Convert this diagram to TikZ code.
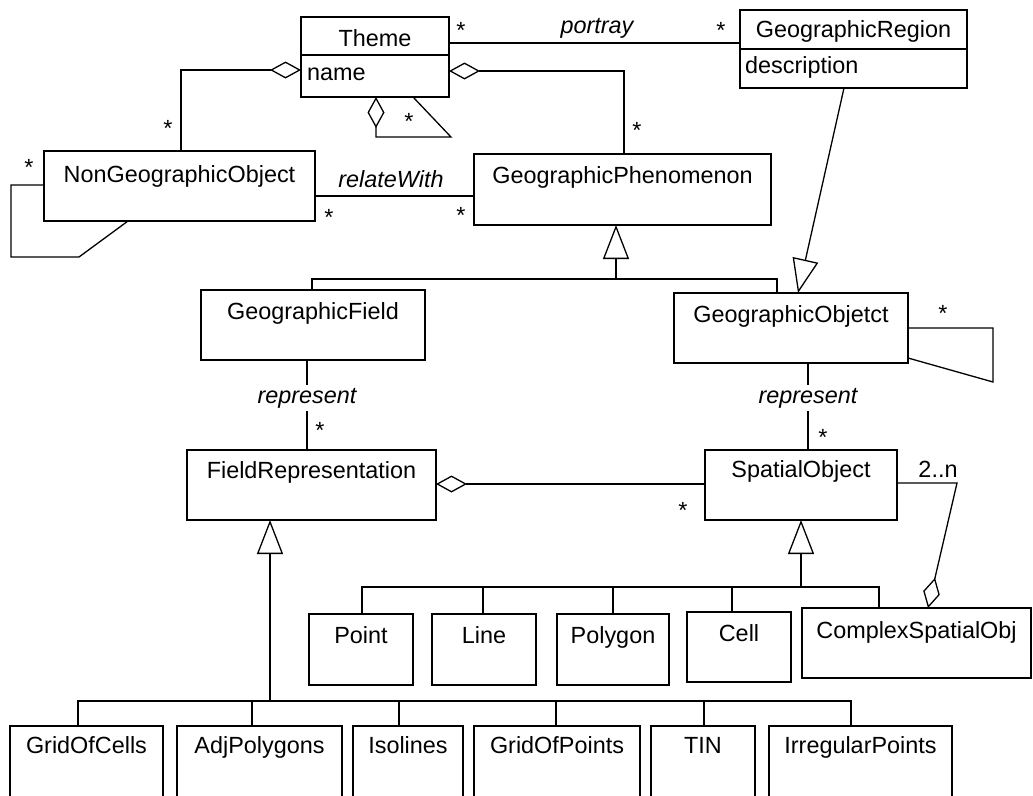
\documentclass[tikz,border=0pt]{standalone}
\usepackage{fontspec}
\setmainfont{Liberation Sans}
\usetikzlibrary{arrows.meta,calc}
\tikzset{
  cls/.style={draw, line width=1.3pt, inner sep=0pt, outer sep=0pt, font=\fontsize{23.4pt}{28pt}\selectfont},
  conn/.style={draw, line width=1.3pt},
  agg/.style={arrows={Diamond[open,length=31pt,width=17pt]-}},
  aggend/.style={arrows={-Diamond[open,length=31pt,width=17pt]}},
  gen/.style={arrows={-Triangle[open,length=34pt,width=26pt]}},
  txt/.style={inner sep=0pt, font=\fontsize{23.4pt}{28pt}\selectfont},
  lbl/.style={inner sep=0pt, font=\fontsize{23.4pt}{28pt}\selectfont\itshape},
  onlbl/.style={fill=white, inner xsep=1pt, inner ysep=3pt, font=\fontsize{23.4pt}{28pt}\selectfont\itshape},
  mult/.style={inner sep=0pt, anchor=base, font=\fontsize{23.4pt}{28pt}\selectfont}
}
\newcommand{\umlcls}[7][29]{%
  \pgfmathsetmacro{\clsw}{#5-#3}%
  \pgfmathsetmacro{\clsd}{#6-#4-#1}%
  \node[cls, minimum width=\clsw pt, text height=#1pt, text depth=\clsd pt, anchor=north west] (#2) at (#3,#4) {#7};}
\begin{document}
\begin{tikzpicture}[x=1pt,y=-1pt]
\useasboundingbox (0,0) rectangle (1033,795);
\clip (0,0) rectangle (1033,795);

% classes
\umlcls{theme}{301}{17}{449}{97}{Theme}
\draw[conn] ($(theme.north west)+(0,38)$) -- ($(theme.north east)+(0,38)$);
\node[txt, anchor=base west] (themename) at (307,80) {name};
\umlcls[27]{gr}{740}{10}{967}{88}{GeographicRegion}
\draw[conn] ($(gr.north west)+(0,39)$) -- ($(gr.north east)+(0,39)$);
\node[txt, anchor=base west] (grdesc) at (745,73) {description};
\umlcls[31]{ngo}{44}{151}{315}{221}{NonGeographicObject}
\umlcls{gp}{474}{154}{771}{225}{GeographicPhenomenon}
\umlcls{gf}{201}{290}{425}{360}{GeographicField}
\umlcls{go}{674}{293}{908}{363}{GeographicObjetct}
\umlcls[28]{fr}{187}{450}{436}{520}{FieldRepresentation}
\umlcls[27]{so}{705}{450}{897}{520}{SpatialObject}
\umlcls{point}{309}{614}{413}{685}{Point}
\umlcls{lineobj}{432}{614}{536}{685}{Line}
\umlcls{polygon}{557}{614}{669}{685}{Polygon}
\umlcls{cell}{687}{612}{791}{682}{Cell}
\umlcls[30]{cso}{802}{608}{1031}{678}{ComplexSpatialObj}
\umlcls[27]{goc}{10}{726}{163}{812}{GridOfCells}
\umlcls[27]{adj}{177}{726}{342}{812}{AdjPolygons}
\umlcls[27]{iso}{353}{726}{463}{812}{Isolines}
\umlcls[27]{gop}{474}{726}{640}{812}{GridOfPoints}
\umlcls[27]{tin}{651}{726}{755}{812}{TIN}
\umlcls[27]{irr}{769}{726}{952}{812}{IrregularPoints}

% associations
\draw[conn] ($(theme.north east)+(0,26)$) -- ($(gr.north west)+(0,33)$);
\node[lbl, anchor=base] (portray) at (597,33) {portray};
\draw[conn,agg] ($(theme.north west)+(0,53)$) -| ($(ngo.north west)+(137,0)$);
\draw[conn,agg] ($(theme.north east)+(0,54)$) -| ($(gp.north west)+(150,0)$);
\draw[conn,agg] ($(theme.south west)+(75,0)$) -- ++(0,40) -- ++(75,0) -- ($(theme.south west)+(112,0)$);
\draw[conn] ($(ngo.north west)+(0,34)$) -- ++(-33,0) -- ++(0,72) -- ++(68,0) -- ($(ngo.south west)+(84,0)$);
\draw[conn] ($(ngo.north east)+(0,45)$) -- ($(gp.north west)+(0,42)$);
\node[lbl, anchor=base] (relate) at (391,187) {relateWith};

% generalization GeographicPhenomenon
\coordinate (gpj) at (616,279);
\draw[conn,gen] (gpj) -- ($(gp.south west)+(142,0)$);
\draw[conn] ($(gf.north west)+(111,0)$) |- (gpj) -| ($(go.north west)+(103,0)$);
\draw[conn,gen] ($(gr.south west)+(104,0)$) -- ($(go.north west)+(124,0)$);
\draw[conn] ($(go.north east)+(0,35)$) -- ++(85,0) -- ++(0,54) -- ($(go.north east)+(0,65)$);

% represent
\draw[conn] ($(gf.south west)+(106,0)$) -- node[onlbl, pos=0.478, anchor=base] (rep1) {represent} ($(fr.north west)+(120,0)$);
\draw[conn] ($(go.south west)+(134,0)$) -- node[onlbl, pos=0.46, anchor=base] (rep2) {represent} ($(so.north west)+(103,0)$);
\draw[conn,agg] ($(fr.north east)+(0,34)$) -- ($(so.north west)+(0,34)$);

% generalization FieldRepresentation
\coordinate (frj) at (270,701);
\draw[conn,gen] (frj) -- ($(fr.south west)+(83,0)$);
\draw[conn] ($(goc.north west)+(68,0)$) |- ($(irr.north west)+(82,-25)$) -- ($(irr.north west)+(82,0)$);
\draw[conn] ($(adj.north west)+(75,0)$) -- ++(0,-25);
\draw[conn] ($(iso.north west)+(46,0)$) -- ++(0,-25);
\draw[conn] ($(gop.north west)+(82,0)$) -- ++(0,-25);
\draw[conn] ($(tin.north west)+(53,0)$) -- ++(0,-25);

% generalization SpatialObject
\coordinate (soj) at (801,587);
\draw[conn,gen] (soj) -- ($(so.south west)+(96,0)$);
\draw[conn] ($(point.north west)+(53,0)$) |- ($(cso.north west)+(77,-21)$) -- ($(cso.north west)+(77,0)$);
\draw[conn] ($(lineobj.north west)+(51,0)$) -- ++(0,-27);
\draw[conn] ($(polygon.north west)+(56,0)$) -- ++(0,-27);
\draw[conn] ($(cell.north west)+(45,0)$) -- ++(0,-25);
\draw[conn,aggend] ($(so.north east)+(0,33)$) -- ++(60,0) -- ($(cso.north west)+(126,0)$);
\node[mult] (twon) at (938,477) {2..n};

% multiplicities
\node[mult] (m1) at (461,38) {*};
\node[mult] (m2) at (721,38) {*};
\node[mult] (m3) at (168,136) {*};
\node[mult] (m4) at (409,129) {*};
\node[mult] (m5) at (29,175) {*};
\node[mult] (m6) at (329,225) {*};
\node[mult] (m7) at (461,223) {*};
\node[mult] (m8) at (637,138) {*};
\node[mult] (m9) at (943,321) {*};
\node[mult] (m10) at (320,438) {*};
\node[mult] (m11) at (823,445) {*};
\node[mult] (m12) at (683,518) {*};
\end{tikzpicture}
\end{document}
